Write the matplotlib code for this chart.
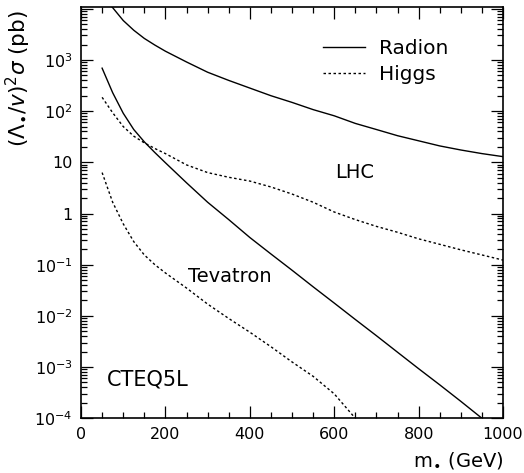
import matplotlib
matplotlib.use('Agg')
import matplotlib.pyplot as plt
from matplotlib.ticker import MultipleLocator, LogLocator, FixedLocator, FixedFormatter, NullFormatter

# Massen in GeV
mass = [50, 75, 100, 125, 150, 175, 200, 250, 300, 350, 400, 450, 500,
        550, 600, 650, 700, 750, 800, 850, 900, 950, 1000]

# Wirkungsquerschnitte (pb), LHC
lhc_radion = [18600, 10500, 5890, 3800, 2630, 1950, 1480, 912, 575, 398,
              282, 200, 148, 107, 81, 57.5, 43.7, 33.1, 26.3, 20.9, 17.4,
              14.8, 12.9]
lhc_higgs = [186, 93, 50, 32.4, 24, 18.6, 14.8, 8.9, 6.3, 5.1, 4.3, 3.3,
             2.4, 1.66, 1.07, 0.76, 0.56, 0.43, 0.32, 0.25, 0.195, 0.155,
             0.123]

# Wirkungsquerschnitte (pb), Tevatron
tev_radion = [690, 229, 91, 43.7, 25.1, 15.5, 9.8, 3.98, 1.66, 0.76, 0.34,
              0.162, 0.078, 0.037, 0.0178, 0.0085, 0.0041, 0.00195, 0.00093,
              0.00045, 0.000214, 0.0001, 4.8e-5]
tev_mass = mass[:17]
tev_higgs = [6.3, 1.66, 0.63, 0.282, 0.155, 0.1, 0.069, 0.035, 0.017,
             0.0089, 0.0048, 0.0025, 0.00126, 0.00066, 0.0003, 0.0001, 4e-5]

ytick_vals = [1e-4, 1e-3, 1e-2, 1e-1, 1, 10, 1e2, 1e3]
ytick_labels = [r'$10^{-4}$', r'$10^{-3}$', r'$10^{-2}$', r'$10^{-1}$',
                '1', '10', r'$10^{2}$', r'$10^{3}$']

fig = plt.figure(figsize=(5.24, 4.73), dpi=100)
ax = fig.add_axes([0.1546, 0.1157, 0.8054, 0.8688])

dash = (0, (1.8, 1.8))
ax.plot(mass, lhc_radion, color='black', lw=1.0, label='Radion')
ax.plot(mass, lhc_higgs, color='black', lw=1.0, ls=dash, label='Higgs')
ax.plot(mass, tev_radion, color='black', lw=1.0)
ax.plot(tev_mass, tev_higgs, color='black', lw=1.0, ls=dash)

ax.set_yscale('log')
ax.set_xlim(0, 1000)
ax.set_ylim(1e-4, 1.065e4)

ax.xaxis.set_major_locator(MultipleLocator(200))
ax.xaxis.set_minor_locator(MultipleLocator(50))
ax.yaxis.set_major_locator(FixedLocator(ytick_vals + [1e4]))
ax.yaxis.set_major_formatter(FixedFormatter(ytick_labels + ['']))
ax.yaxis.set_minor_locator(LogLocator(base=10, subs=range(2, 10), numticks=20))
ax.yaxis.set_minor_formatter(NullFormatter())

ax.tick_params(which='both', direction='in', top=True, right=True,
               labelsize=11.5, width=0.9)
ax.tick_params(which='major', length=8.5, pad=6)
ax.tick_params(which='minor', length=4.3)
for s in ax.spines.values():
    s.set_linewidth(1.2)

ax.set_xlabel(r'm$_{\bullet}$ (GeV)', fontsize=14, loc='right', labelpad=6)
ax.set_ylabel(r'$(\Lambda_{\bullet}/v)^2\sigma$ (pb)', fontsize=15.5, loc='top')
ax.yaxis.set_label_coords(-0.114, 0.994)

ax.text(602, 6.2, 'LHC', fontsize=14, va='center')
ax.text(254, 0.059, 'Tevatron', fontsize=14, va='center')
ax.text(61, 5.6e-4, 'CTEQ5L', fontsize=15, va='center')

ax.legend(loc='upper left', bbox_to_anchor=(0.53, 0.968), frameon=False,
          fontsize=14.5, handlelength=2.1, handletextpad=0.7,
          labelspacing=0.35)

fig.savefig('out.png', dpi=100)
